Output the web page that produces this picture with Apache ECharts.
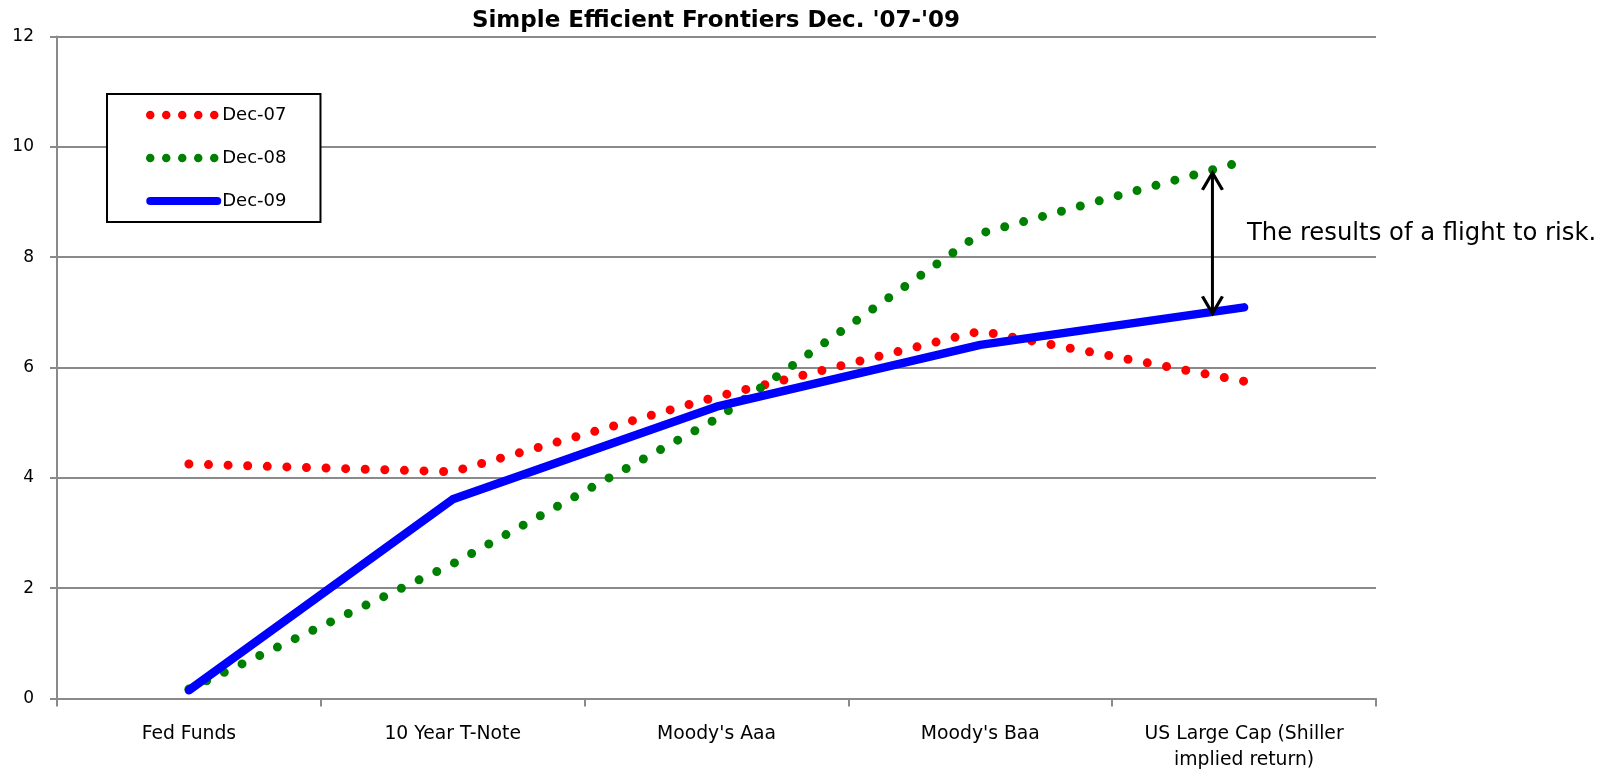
<!DOCTYPE html>
<html><head><meta charset="utf-8">
<script src="https://cdn.jsdelivr.net/npm/echarts/dist/echarts.min.js"></script>
<style>html,body{margin:0;padding:0;background:#fff}#c{width:1617px;height:773px}</style>
</head><body><div id="c"></div>
<script>
const titleText = "Simple Efficient Frontiers Dec. '07-'09";
const categories = ['Fed Funds', '10 Year T-Note', "Moody's Aaa", "Moody's Baa", 'US Large Cap (Shiller\nimplied return)'];
const seriesNames = ['Dec-07', 'Dec-08', 'Dec-09'];
const dec07 = [4.25, 4.11, 5.47, 6.66, 5.75];
const dec08 = [0.17, 2.44, 5.07, 8.43, 9.74];
const dec09 = [0.15, 3.61, 5.29, 6.41, 7.09];
const yMin = 0, yMax = 12, yStep = 2;
// gap annotation: position on the category-index scale, from Dec-08 level down to Dec-09 level
const gapX = 3.88;
const gapTop = 9.53;
const gapBottom = 6.98;
const annotationText = 'The results of a flight to risk.';

const FONT = 'DejaVu Sans';
const GRAY = '#8a8a8a';
const chart = echarts.init(document.getElementById('c'), null, {renderer: 'canvas'});

const dotted = (color, gap) => ({color: color, width: 9, type: [0, gap], cap: 'round', join: 'round'});
const hiddenSym = {color: 'rgba(0,0,0,0)', borderWidth: 0, opacity: 0};

chart.setOption({
  animation: false,
  backgroundColor: '#fff',
  title: [
    {text: titleText, left: 716, top: 8, textAlign: 'center', padding: 0,
     textStyle: {fontFamily: FONT, fontWeight: 'bold', fontSize: 23, lineHeight: 26, color: '#000'}},
    {text: annotationText, left: 1247, top: 220, padding: 0,
     textStyle: {fontFamily: FONT, fontWeight: 'normal', fontSize: 24.3, lineHeight: 28, color: '#000'}}
  ],
  legend: {
    orient: 'vertical', left: 107, top: 94,
    padding: [11, 34, 11, 39],
    itemWidth: 67, itemHeight: 20, itemGap: 23,
    borderColor: '#000', borderWidth: 2, backgroundColor: '#fff',
    selectedMode: false,
    itemStyle: hiddenSym,
    textStyle: {fontFamily: FONT, fontSize: 18, lineHeight: 20, color: '#000'},
    data: [
      {name: seriesNames[0], itemStyle: hiddenSym, lineStyle: {color: '#ff0000', width: 8.5, type: [0, 16], cap: 'round'}},
      {name: seriesNames[1], itemStyle: hiddenSym, lineStyle: {color: '#008000', width: 8.5, type: [0, 16], cap: 'round'}},
      {name: seriesNames[2], itemStyle: hiddenSym, lineStyle: {color: '#0000ff', width: 8, type: 'solid', cap: 'round'}}
    ]
  },
  grid: {left: 57, right: 241, top: 36.5, bottom: 71.5, containLabel: false},
  xAxis: [
    {type: 'category', data: categories, boundaryGap: true,
     axisLine: {lineStyle: {color: GRAY, width: 2}},
     axisTick: {show: true, length: 8, lineStyle: {color: GRAY, width: 2}},
     axisLabel: {interval: 0, margin: 22.5, fontFamily: FONT, fontSize: 18.8, lineHeight: 26, color: '#000'},
     splitLine: {show: false}},
    {type: 'value', min: -0.5, max: 4.5, show: false}
  ],
  yAxis: {
    type: 'value', min: yMin, max: yMax, interval: yStep,
    axisLine: {show: true, onZero: false, lineStyle: {color: GRAY, width: 2}},
    axisTick: {show: true, length: 7, lineStyle: {color: GRAY, width: 2}},
    axisLabel: {margin: 23, fontFamily: FONT, fontSize: 17, color: '#000'},
    splitLine: {show: true, lineStyle: {color: GRAY, width: 2}}
  },
  series: [
    {name: seriesNames[0], type: 'line', data: dec07, smooth: false, symbol: 'none',
     lineStyle: dotted('#ff0000', 19.6), itemStyle: {color: '#ff0000'}, z: 2},
    {name: seriesNames[1], type: 'line', data: dec08, smooth: false, symbol: 'none',
     lineStyle: dotted('#008000', 19.6), itemStyle: {color: '#008000'}, z: 3},
    {name: seriesNames[2], type: 'line', data: dec09, smooth: false, symbol: 'none',
     lineStyle: {color: '#0000ff', width: 8.5, cap: 'round', join: 'round'}, itemStyle: {color: '#0000ff'}, z: 4},
    {name: 'gap', type: 'line', xAxisIndex: 1, silent: true, symbol: 'none', z: 5,
     data: [[gapX, gapTop], [gapX, gapBottom]],
     lineStyle: {color: '#000', width: 3},
     markPoint: {
       silent: true, label: {show: false},
       itemStyle: {color: 'transparent', borderColor: '#000', borderWidth: 3},
       data: [
         {coord: [gapX, gapTop], symbol: 'path://M-10,9 L0,0 L10,9', symbolSize: [20, 17], symbolOffset: [0, 8.5]},
         {coord: [gapX, gapBottom], symbol: 'path://M-10,0 L0,9 L10,0', symbolSize: [20, 17], symbolOffset: [0, -8.5]}
       ]
     }}
  ]
});
</script></body></html>
